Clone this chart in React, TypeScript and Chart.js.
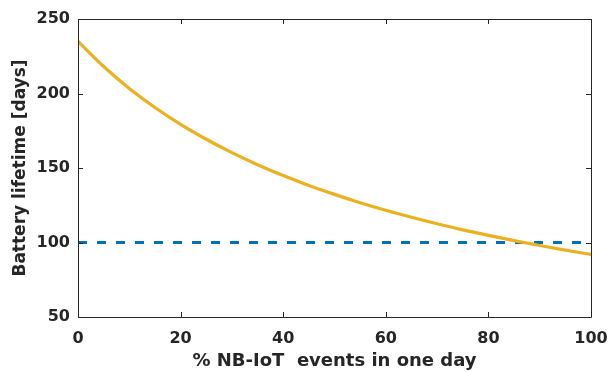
import React, { useEffect, useRef } from "react";
import { Chart, registerables } from "chart.js";

Chart.register(...registerables);

const xPercent = [0, 5, 10, 15, 20, 25, 30, 35, 40, 45, 50, 55, 60, 65, 70, 75, 80, 85, 90, 95, 100];
const lifetimeDays = [235.0, 218.1, 203.4, 190.6, 179.3, 169.3, 160.3, 152.2, 144.9, 138.3, 132.3, 126.7, 121.6, 116.9, 112.6, 108.5, 104.8, 101.3, 98.0, 94.9, 92.0];
const thresholdX = [0, 100];
const thresholdDays = [100, 100];
const xTicks = [0, 20, 40, 60, 80, 100];
const yTicks = [50, 100, 150, 200, 250];

const FONT = "'DejaVu Sans', 'Liberation Sans', Arial, sans-serif";
const AXIS_COLOR = "#262626";

const framePlugin = {
  id: "matlabFrame",
  afterDatasetsDraw(chart: any) {
    const { ctx, chartArea } = chart;
    const xs = chart.scales.x;
    const ys = chart.scales.y;
    const { left, right, top, bottom } = chartArea;
    const tl = 5;
    ctx.save();
    ctx.strokeStyle = AXIS_COLOR;
    ctx.lineWidth = 1;
    ctx.beginPath();
    ctx.rect(Math.round(left) + 0.5, Math.round(top) + 0.5, Math.round(right - left), Math.round(bottom - top));
    for (const v of xTicks) {
      const px = Math.round(xs.getPixelForValue(v)) + 0.5;
      ctx.moveTo(px, bottom);
      ctx.lineTo(px, bottom - tl);
      ctx.moveTo(px, top);
      ctx.lineTo(px, top + tl);
    }
    for (const v of yTicks) {
      const py = Math.round(ys.getPixelForValue(v)) + 0.5;
      ctx.moveTo(left, py);
      ctx.lineTo(left + tl, py);
      ctx.moveTo(right, py);
      ctx.lineTo(right - tl, py);
    }
    ctx.stroke();
    ctx.restore();
  },
};

export default function App() {
  const ref = useRef<HTMLCanvasElement | null>(null);

  useEffect(() => {
    if (!ref.current) return;
    const chart = new Chart(ref.current, {
      type: "line",
      data: {
        datasets: [
          {
            label: "Battery lifetime",
            data: xPercent.map((x, i) => ({ x, y: lifetimeDays[i] })),
            borderColor: "#EDB120",
            borderWidth: 3.2,
            pointRadius: 0,
            cubicInterpolationMode: "monotone",
            fill: false,
          },
          {
            label: "Threshold",
            data: thresholdX.map((x, i) => ({ x, y: thresholdDays[i] })),
            borderColor: "#0072BD",
            borderWidth: 3,
            borderDash: [9, 10],
            pointRadius: 0,
            fill: false,
          },
        ],
      },
      plugins: [framePlugin],
      options: {
        animation: false,
        responsive: false,
        maintainAspectRatio: false,
        layout: { padding: { top: 19, right: 18, left: 0, bottom: 0 } },
        plugins: { legend: { display: false }, tooltip: { enabled: false } },
        scales: {
          x: {
            type: "linear",
            min: 0,
            max: 100,
            grid: { display: false, drawTicks: false },
            border: { display: false },
            afterBuildTicks(scale: any) {
              scale.ticks = xTicks.map((v) => ({ value: v }));
            },
            afterFit(scale: any) {
              scale.height = 55;
              scale.paddingLeft = 0;
              scale.paddingRight = 0;
            },
            ticks: {
              color: AXIS_COLOR,
              padding: 12,
              maxRotation: 0,
              font: { family: FONT, size: 16, weight: "bold" },
            },
            title: {
              display: true,
              text: "% NB-IoT  events in one day",
              color: AXIS_COLOR,
              padding: { top: 5, bottom: 0 },
              font: { family: FONT, size: 18, weight: "bold" },
            },
          },
          y: {
            type: "linear",
            min: 50,
            max: 250,
            grid: { display: false, drawTicks: false },
            border: { display: false },
            afterBuildTicks(scale: any) {
              scale.ticks = yTicks.map((v) => ({ value: v }));
            },
            afterFit(scale: any) {
              scale.width = 78;
              scale.paddingTop = 0;
              scale.paddingBottom = 0;
            },
            ticks: {
              color: AXIS_COLOR,
              padding: 8,
              font: { family: FONT, size: 16, weight: "bold" },
            },
            title: {
              display: true,
              text: "Battery lifetime [days]",
              color: AXIS_COLOR,
              padding: { top: 10, bottom: 4 },
              font: { family: FONT, size: 17, weight: "bold" },
            },
          },
        },
      },
    } as any);
    return () => chart.destroy();
  }, []);

  return (
    <div style={{ position: "fixed", left: 0, top: 0, width: 609, height: 372, background: "#fff" }}>
      <canvas ref={ref} width={609} height={372} style={{ width: 609, height: 372, display: "block" }} />
    </div>
  );
}
